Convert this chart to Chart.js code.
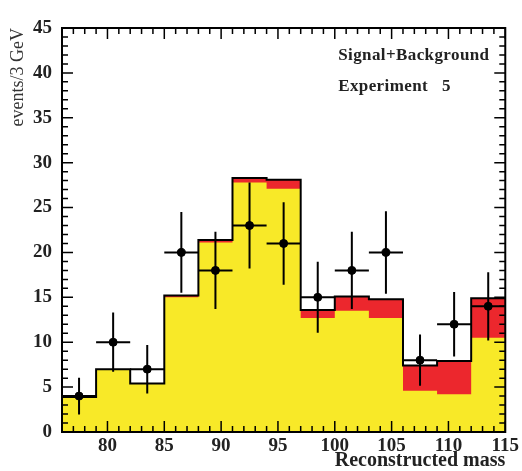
<!DOCTYPE html>
<html>
<head>
<meta charset="utf-8">
<script src="https://cdn.jsdelivr.net/npm/chart.js@4"></script>
<style>
html,body{margin:0;padding:0;background:#fff;}
#wrap{width:522px;height:471px;}
</style>
</head>
<body>
<div id="wrap"><canvas id="c" width="522" height="471"></canvas></div>
<script>
// ---- data ----
const binEdges   = [76, 79, 82, 85, 88, 91, 94, 97, 100, 103, 106, 109, 112, 115];
const background = [3.9, 7.0, 5.4, 15.0, 21.1, 27.8, 27.1, 12.7, 13.5, 12.7, 4.6, 4.2, 10.5];
const signal     = [0.0, 0.0, 0.0, 0.2, 0.3, 0.5, 1.0, 0.9, 1.6, 2.1, 2.8, 3.7, 4.4];
const observed   = [4, 10, 7, 20, 18, 23, 21, 15, 18, 20, 8, 12, 14];
const observedErr= [2.05, 3.3, 2.7, 4.5, 4.3, 4.8, 4.6, 3.95, 4.3, 4.6, 2.85, 3.6, 3.8];
const xTicks = [80, 85, 90, 95, 100, 105, 110, 115];
const yTicks = [0, 5, 10, 15, 20, 25, 30, 35, 40, 45];
const labelLines = ['Signal+Background', 'Experiment   5'];

// ---- build step series ----
const total = background.map((b, i) => b + signal[i]);
function steps(vals) {
  const pts = vals.map((v, i) => ({x: binEdges[i], y: v}));
  pts.push({x: binEdges[binEdges.length - 1], y: vals[vals.length - 1]});
  return pts;
}
const obsPoints = observed.map((v, i) => ({x: (binEdges[i] + binEdges[i + 1]) / 2, y: v, lo: binEdges[i], hi: binEdges[i + 1], e: observedErr[i]}));

const YELLOW = '#f8e928';
const RED = '#ec272d';

const serif = '"Liberation Serif", "DejaVu Serif", serif';

const errorBars = {
  id: 'errorBars',
  afterDatasetsDraw(chart) {
    const {ctx, scales: {x, y}} = chart;
    ctx.save();
    ctx.strokeStyle = '#000';
    ctx.lineWidth = 2;
    obsPoints.forEach(p => {
      const px = x.getPixelForValue(p.x), py = y.getPixelForValue(p.y);
      ctx.beginPath();
      ctx.moveTo(px, y.getPixelForValue(p.y - p.e));
      ctx.lineTo(px, y.getPixelForValue(p.y + p.e));
      ctx.moveTo(x.getPixelForValue(p.lo), py);
      ctx.lineTo(x.getPixelForValue(p.hi), py);
      ctx.stroke();
    });
    ctx.restore();
  }
};

const frameTicks = {
  id: 'frameTicks',
  afterDraw(chart) {
    const {ctx, chartArea: a, scales: {x, y}} = chart;
    ctx.save();
    ctx.strokeStyle = '#000';
    ctx.lineWidth = 1.5;
    ctx.beginPath();
    for (let v = Math.ceil(x.min); v <= x.max; v++) {
      const px = x.getPixelForValue(v);
      const len = v % 5 === 0 ? 11 : 6;
      ctx.moveTo(px, a.bottom); ctx.lineTo(px, a.bottom - len);
      ctx.moveTo(px, a.top); ctx.lineTo(px, a.top + len);
    }
    for (let v = Math.ceil(y.min); v <= y.max; v++) {
      const py = y.getPixelForValue(v);
      const len = v % 5 === 0 ? 11 : 6;
      ctx.moveTo(a.left, py); ctx.lineTo(a.left + len, py);
      ctx.moveTo(a.right, py); ctx.lineTo(a.right - len, py);
    }
    ctx.stroke();
    ctx.lineWidth = 2;
    ctx.strokeRect(a.left, a.top, a.right - a.left, a.bottom - a.top);
    // labels
    ctx.fillStyle = '#222';
    ctx.font = 'bold 17px ' + serif;
    ctx.letterSpacing = '0.4px';
    ctx.textAlign = 'left';
    ctx.textBaseline = 'alphabetic';
    const tx = a.left + (a.right - a.left) * 0.623;
    ctx.fillText(labelLines[0], tx, a.top + 32);
    ctx.fillText(labelLines[1], tx, a.top + 63);
    ctx.restore();
  }
};

new Chart(document.getElementById('c'), {
  type: 'line',
  data: {
    datasets: [
      {
        label: 'total-fill', data: steps(total), stepped: true,
        borderWidth: 0, pointRadius: 0, backgroundColor: RED, fill: 'origin', order: 3
      },
      {
        label: 'background', data: steps(background), stepped: true,
        borderWidth: 0, pointRadius: 0, backgroundColor: YELLOW, fill: 'origin', order: 2
      },
      {
        label: 'total', data: steps(total), stepped: true,
        borderColor: '#000', borderWidth: 2, pointRadius: 0, fill: false, order: 1
      },
      {
        type: 'scatter', label: 'data', data: obsPoints,
        pointRadius: 4, pointBackgroundColor: '#000', pointBorderColor: '#000', showLine: false, order: 0
      }
    ]
  },
  options: {
    responsive: false,
    animation: false,
    devicePixelRatio: 1,
    layout: {padding: {top: 28, right: 15, left: 0, bottom: 0}},
    plugins: {legend: {display: false}, tooltip: {enabled: false}},
    scales: {
      x: {
        type: 'linear', min: binEdges[0], max: binEdges[binEdges.length - 1],
        afterBuildTicks: s => { s.ticks = xTicks.map(v => ({value: v})); },
        afterFit: s => { s.height = 39; },
        grid: {display: false, drawTicks: false},
        border: {display: false},
        ticks: {color: '#222', font: {family: serif, size: 19, weight: 'bold'}, padding: 3, maxRotation: 0},
        title: {display: true, text: 'Reconstructed mass', align: 'end', color: '#222',
                font: {family: serif, size: 20, weight: 'bold', lineHeight: 1.0}, padding: {top: 0, bottom: 0}}
      },
      y: {
        type: 'linear', min: 0, max: 45,
        afterBuildTicks: s => { s.ticks = yTicks.map(v => ({value: v})); },
        afterFit: s => { s.width = 62; },
        grid: {display: false, drawTicks: false},
        border: {display: false},
        ticks: {color: '#222', font: {family: serif, size: 19, weight: 'bold'}, padding: 10},
        title: {display: true, text: 'events/3 GeV', align: 'end', color: '#333',
                font: {family: serif, size: 18, weight: 'normal'}, padding: {top: 7, bottom: 0}}
      }
    }
  },
  plugins: [errorBars, frameTicks]
});
</script>
</body>
</html>
